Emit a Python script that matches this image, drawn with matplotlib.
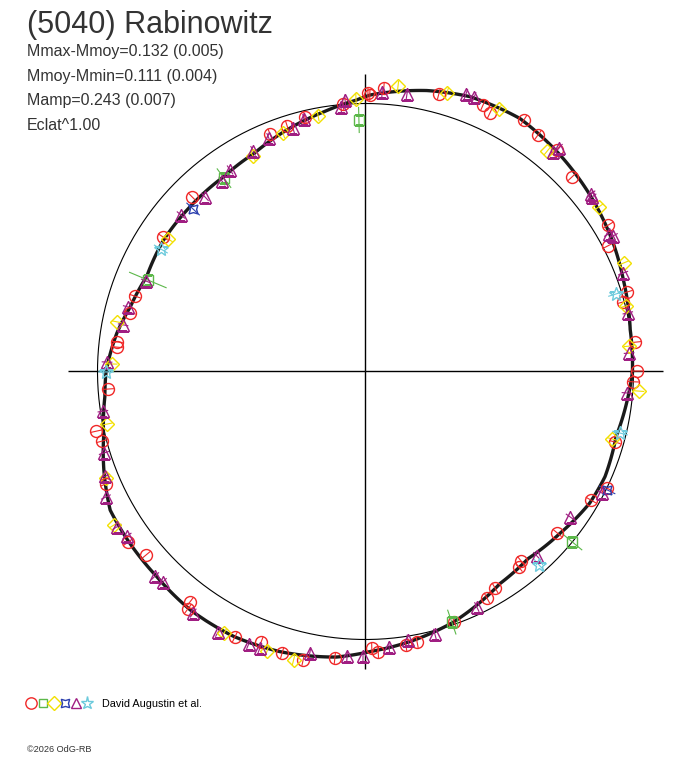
import numpy as np
import matplotlib
matplotlib.use("Agg")
import matplotlib.pyplot as plt
from matplotlib.lines import Line2D
from matplotlib.legend_handler import HandlerTuple

plt.rcParams['font.family'] = ['Liberation Sans', 'DejaVu Sans']

TITLE = "(5040) Rabinowitz"
INFO = ["Mmax-Mmoy=0.132 (0.005)",
        "Mmoy-Mmin=0.111 (0.004)",
        "Mamp=0.243 (0.007)",
        "Eclat^1.00"]
OBSERVER = "David Augustin et al."
COPYRIGHT = "\u00a92026 OdG-RB"

# mean lightcurve: phase (deg) and relative radius (1 = mean circle)
curve_phase = [0, 9, 19.5, 27.4, 37, 48, 58.6, 69.2, 77.7, 89, 92, 99.2, 108, 117,
               126, 136.8, 147, 156.6, 164.6, 171.3, 180, 185.5, 194, 200.6, 208.5,
               216, 224.5, 233.7, 243.5, 253, 264.2, 271, 279.4, 289.3, 302.4, 311,
               320.2, 329.6, 336.3, 345.5, 353]
curve_rho = [0.996, 1.000, 1.021, 1.041, 1.063, 1.086, 1.106, 1.097, 1.073, 1.032,
             1.013, 0.981, 0.948, 0.914, 0.899, 0.898, 0.899, 0.890, 0.910, 0.939,
             0.968, 0.977, 1.007, 1.043, 1.084, 1.088, 1.092, 1.104, 1.104, 1.093,
             1.071, 1.045, 1.021, 0.991, 0.937, 0.925, 0.944, 0.970, 0.976, 0.966,
             0.981]

# observation sessions (phase deg, relative radius)
red_phase = [89.5, 94.8, 103.4, 107.7, 111.9, 134.8, 146.4, 161.9, 166.0, 173.2,
             174.4, 89.1, 86.3, 75.2, 66.2, 64.3, 57.8, 53.9, 49.2, 43.3, 31.1,
             27.4, 16.9, 15.1, 6.2, 0.1, -2.2, -15.8, -25.8, -29.7, -40.1, -50.6,
             -51.9, -59.1, -61.8, -70.5, -79.2, -81.6, -87.4, -88.7, 183.9, 192.5,
             194.8, 203.4, 215.7, 219.9, 232.7, 233.2, 243.8, 248.9, 253.5, 257.8,
             263.9]
red_rho = [1.039, 1.002, 0.976, 0.962, 0.955, 0.918, 0.907, 0.905, 0.906, 0.934,
           0.932, 1.032, 1.060, 1.071, 1.087, 1.071, 1.109, 1.092, 1.093, 1.058,
           1.057, 1.019, 1.020, 0.995, 1.012, 1.013, 0.999, 0.967, 1.000, 0.968,
           0.935, 0.915, 0.927, 0.941, 0.959, 0.991, 1.028, 1.032, 1.048, 1.032,
           0.963, 1.030, 1.017, 1.055, 1.091, 1.068, 1.081, 1.106, 1.104, 1.082,
           1.096, 1.101, 1.075]

yellow_phase = [92.0, 100.5, 109.1, 117.6, 146.1, 168.7, 178.3, 83.5, 73.7, 63.0,
                50.5, 35.2, 22.8, 14.1, 5.5, -4.1, -15.3, 191.5, 202.3, 211.4,
                241.6, 250.6, 256.0]
yellow_rho = [1.017, 0.970, 0.942, 0.907, 0.887, 0.945, 0.946, 1.072, 1.083, 1.099,
              1.066, 1.066, 1.046, 1.002, 0.988, 1.023, 0.954, 0.984, 1.047, 1.099,
              1.109, 1.106, 1.110]

purple_phase = [94.3, 95.3, 103.7, 106.6, 112.5, 117.0, 123.9, 127.0, 132.6, 139.7,
                157.6, 164.8, 169.1, 177.9, 86.6, 81.5, 70.1, 68.4, 49.1, 49.5,
                38.2, 37.6, 29.5, 28.7, 20.9, 12.6, 4.0, -4.7, -27.2, -35.4, -47.1,
                -64.7, -75.2, -81.0, -85.1, -90.5, 188.6, 197.3, 201.9, 205.8,
                212.0, 214.6, 224.2, 226.1, 234.5, 240.5, 246.8, 249.1, 258.8, 266.3]
purple_rho = [1.016, 0.991, 0.970, 0.948, 0.943, 0.924, 0.906, 0.890, 0.885, 0.903,
              0.886, 0.918, 0.921, 0.965, 1.045, 1.047, 1.101, 1.101, 1.103, 1.077,
              1.071, 1.067, 1.043, 1.053, 1.029, 1.003, 0.986, 0.979, 0.992, 0.937,
              0.940, 0.972, 1.013, 1.014, 1.032, 1.062, 0.991, 1.022, 1.047, 1.076,
              1.094, 1.081, 1.095, 1.090, 1.107, 1.117, 1.106, 1.104, 1.071, 1.064]

green_phase = [91.5, 126.2, 157.2, -39.5, -71.0]
green_rho = [0.939, 0.894, 0.881, 0.999, 0.989]
green_err = [0.049, 0.045, 0.076, 0.049, 0.049]

blue_phase = [136.7, -26.1]
blue_rho = [0.884, 1.004]

cyan_phase = [149.1, 180.1, 17.2, -13.6, -48.1]
cyan_rho = [0.890, 0.968, 0.978, 0.977, 0.970]

series = [
    # phase, rho, error, colour, marker, size
    (red_phase, red_rho, 0.022, '#f02828', 'o', 8.6),
    (green_phase, green_rho, green_err, '#5cb84a', 's', 6.8),
    (yellow_phase, yellow_rho, 0.02, '#f2e000', 'D', 7.0),
    (blue_phase, blue_rho, 0.034, '#2b3fae', (4, 1, 45), 9.0),
    (purple_phase, purple_rho, 0.02, '#a01e82', '^', 8.0),
    (cyan_phase, cyan_rho, 0.03, '#6ccadc', '*', 10.0),
]

W, H = 688, 768
fig = plt.figure(figsize=(W / 100, H / 100), dpi=100)

RMAX = 1.25
R_PX = 268
cx, cy = 365.5, H - 371.5
half = RMAX * R_PX
ax = fig.add_axes([(cx - half) / W, (cy - half) / H, 2 * half / W, 2 * half / H],
                  projection='polar')
ax.set_ylim(0, RMAX)
ax.set_axis_off()

# cross and mean circle
cross = [0, 90, 180, 270]
ax.vlines(np.radians(cross), 0, 1.11, colors='black', lw=1.0, zorder=1)
tt = np.linspace(0, 2 * np.pi, 400)
ax.plot(tt, np.ones_like(tt), color='black', lw=0.8, zorder=1)

# lightcurve, drawn along arcs between the read points
th = np.radians(curve_phase + [curve_phase[0] + 360])
rr = curve_rho + [curve_rho[0]]
ln, = ax.plot(th, rr, color='#1a1a1a', lw=2.4, zorder=2)
ln._path._interpolation_steps = 24

handles = []
for ph, rho, err, col, mk, ms in series:
    t = np.radians(ph)
    rho = np.asarray(rho)
    err = np.asarray(err) * np.ones_like(rho)
    ax.vlines(t, rho - err, rho + err, colors=col, lw=0.8, zorder=3)
    ax.plot(t, rho, linestyle='none', marker=mk, ms=ms, mfc='none', mec=col,
            mew=1.0, zorder=4)
    handles.append(Line2D([], [], linestyle='none', marker=mk, ms=ms * 0.95,
                          mfc='none', mec=col, mew=1.0))

# texts
fig.text(27 / W, 1 - 33 / H, TITLE, fontsize=22, color='#333333', va='baseline')
for i, line in enumerate(INFO):
    fig.text(27 / W, 1 - (56 + 24.7 * i) / H, line, fontsize=11.5, color='#333333',
             va='baseline')

fig.legend([tuple(handles)], [OBSERVER], loc='center left',
           bbox_to_anchor=(16 / W, 1 - 704 / H), frameon=False, fontsize=7.8,
           handlelength=6.2, handletextpad=0.8,
           handler_map={tuple: HandlerTuple(ndivide=None, pad=0.0)})
fig.text(27 / W, 1 - 752 / H, COPYRIGHT, fontsize=6.6, color='#333333', va='baseline')

fig.savefig('out.png', dpi=100)
